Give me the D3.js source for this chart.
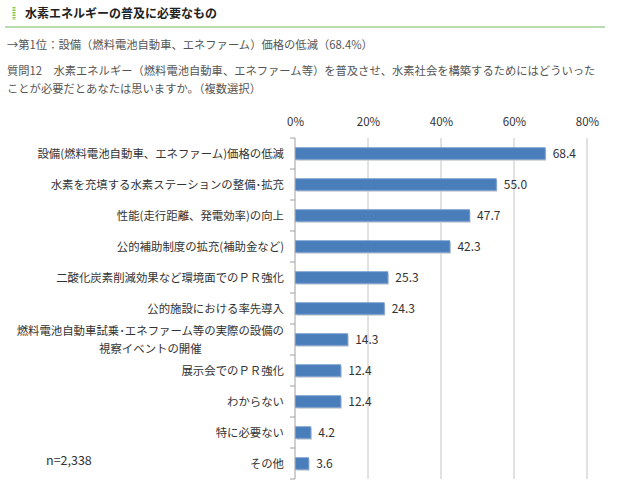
<!DOCTYPE html>
<html>
<head>
<meta charset="utf-8">
<script src="https://cdn.jsdelivr.net/npm/d3@7"></script>
<style>
  body { margin: 0; background: #fff; }
  svg { display: block; }
  text { font-family: "Noto Sans CJK JP", sans-serif; }
</style>
</head>
<body>
<svg id="chart" width="618" height="489"></svg>
<script>
// data
const categories = [
  ['設備(燃料電池自動車、エネファーム)価格の低減'],
  ['水素を充填する水素ステーションの整備･拡充'],
  ['性能(走行距離、発電効率)の向上'],
  ['公的補助制度の拡充(補助金など)'],
  ['二酸化炭素削減効果など環境面でのＰＲ強化'],
  ['公的施設における率先導入'],
  ['燃料電池自動車試乗･エネファーム等の実際の設備の', '視察イベントの開催'],
  ['展示会でのＰＲ強化'],
  ['わからない'],
  ['特に必要ない'],
  ['その他']
]
const values = [68.4, 55.0, 47.7, 42.3, 25.3, 24.3, 14.3, 12.4, 12.4, 4.2, 3.6]
const tickValues = [0, 20, 40, 60, 80]

const titleText = '水素エネルギーの普及に必要なもの'
const topAnswer = '→第1位：設備（燃料電池自動車、エネファーム）価格の低減（68.4%）'
const questionLines = [
  '質問12　水素エネルギー（燃料電池自動車、エネファーム等）を普及させ、水素社会を構築するためにはどういった',
  'ことが必要だとあなたは思いますか。（複数選択）'
]
const sampleNote = 'n=2,338'

const svg = d3.select('#chart')

// header
svg.append('line')
  .attr('x1', 14).attr('x2', 14).attr('y1', 7).attr('y2', 20)
  .attr('stroke', '#8cc63f').attr('stroke-width', 3)
  .attr('stroke-dasharray', '1.5,1')
svg.append('text')
  .attr('x', 25).attr('y', 17.5)
  .attr('font-size', 12).attr('font-weight', 'bold').attr('fill', '#222')
  .text(titleText)
svg.append('line')
  .attr('x1', 5).attr('x2', 605).attr('y1', 27).attr('y2', 27)
  .attr('stroke', '#b9dcae').attr('stroke-width', 2)

svg.append('text')
  .attr('x', 7).attr('y', 48.5)
  .attr('font-size', 11.3).attr('fill', '#555')
  .text(topAnswer)

svg.selectAll('.question')
  .data(questionLines)
  .join('text')
  .attr('class', 'question')
  .attr('x', 7).attr('y', (d, i) => 75 + i * 18)
  .attr('font-size', 11.3).attr('fill', '#555')
  .text(d => d)

// chart area
const margin = {top: 138, left: 295, right: 618 - 587, bottom: 489 - 479}
const width = 618 - margin.left - margin.right
const height = 489 - margin.top - margin.bottom

const x = d3.scaleLinear().domain([0, 80]).range([0, width])
const y = d3.scaleBand().domain(d3.range(values.length)).range([0, height])

const g = svg.append('g')
  .attr('transform', 'translate(' + margin.left + ',' + margin.top + ')')

// gridlines
g.selectAll('.grid')
  .data(tickValues.slice(1))
  .join('line')
  .attr('class', 'grid')
  .attr('x1', d => x(d)).attr('x2', d => x(d))
  .attr('y1', 0).attr('y2', height)
  .attr('stroke', '#c4c4c4').attr('stroke-width', 1)

// top tick labels
const xAxis = d3.axisTop(x).tickValues(tickValues).tickSize(0).tickPadding(0)
  .tickFormat(d => d + '%')
const xg = g.append('g').attr('transform', 'translate(0,-12)').call(xAxis)
xg.select('.domain').remove()
xg.selectAll('text')
  .attr('font-family', '"Liberation Sans", Arial, sans-serif')
  .attr('font-size', 11.5).attr('fill', '#333')

// left axis line with tick marks on band boundaries
g.append('line')
  .attr('x1', 0).attr('x2', 0).attr('y1', 0).attr('y2', height)
  .attr('stroke', '#a0a0a0')
g.selectAll('.ytick')
  .data(d3.range(values.length + 1))
  .join('line')
  .attr('class', 'ytick')
  .attr('x1', -5).attr('x2', 0)
  .attr('y1', d => d * y.step()).attr('y2', d => d * y.step())
  .attr('stroke', '#a0a0a0')

// bars
const barH = 11.5
const bars = g.selectAll('.bar')
  .data(values)
  .join('g')
  .attr('class', 'bar')
  .attr('transform', (d, i) => 'translate(0,' + (y(i) + y.bandwidth() / 2 - barH / 2) + ')')

bars.append('rect')
  .attr('x', 1.5).attr('y', 1.5)
  .attr('width', d => x(d)).attr('height', barH)
  .attr('fill', '#c9cdd3')
bars.append('rect')
  .attr('x', 0.5).attr('y', 0)
  .attr('width', d => x(d)).attr('height', barH)
  .attr('fill', '#4a7ebb')
  .attr('stroke', '#6f98cc').attr('stroke-width', 0.8)

bars.append('text')
  .attr('x', d => x(d) + 8)
  .attr('y', barH / 2)
  .attr('dy', '0.36em')
  .attr('font-family', '"Liberation Sans", Arial, sans-serif')
  .attr('font-size', 12).attr('fill', '#333')
  .text(d => d.toFixed(1))

// category labels
const labelSize = 11.4
categories.forEach((lines, i) => {
  const cy = y(i) + y.bandwidth() / 2
  if (lines.length === 1) {
    g.append('text')
      .attr('x', -11).attr('y', cy).attr('dy', '0.36em')
      .attr('text-anchor', 'end')
      .attr('font-size', labelSize).attr('fill', '#333')
      .text(lines[0])
  } else {
    const first = g.append('text')
      .attr('x', -11).attr('y', cy - 9).attr('dy', '0.36em')
      .attr('text-anchor', 'end')
      .attr('font-size', labelSize).attr('fill', '#333')
      .text(lines[0])
    const w = first.node().getComputedTextLength()
    g.append('text')
      .attr('x', -11 - w / 2).attr('y', cy + 9).attr('dy', '0.36em')
      .attr('text-anchor', 'middle')
      .attr('font-size', labelSize).attr('fill', '#333')
      .text(lines[1])
  }
})

// sample size
svg.append('text')
  .attr('x', 46).attr('y', 464.5)
  .attr('font-family', '"Liberation Sans", Arial, sans-serif')
  .attr('font-size', 12.5).attr('fill', '#333')
  .text(sampleNote)
</script>
</body>
</html>
